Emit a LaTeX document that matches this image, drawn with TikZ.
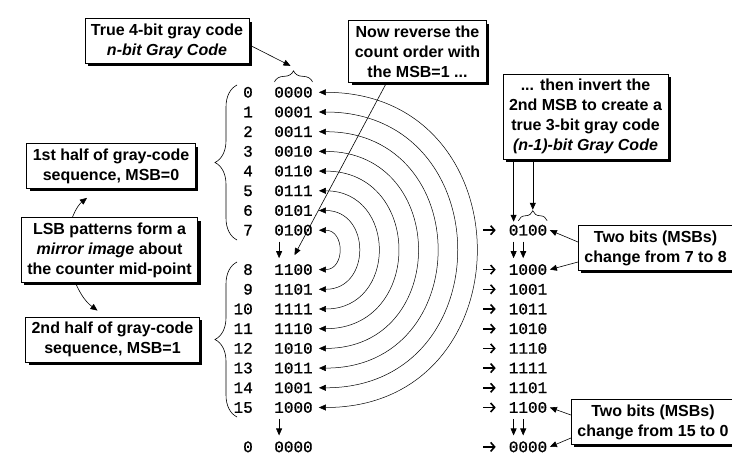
\documentclass[tikz,border=0pt]{standalone}
\usepackage{fontspec}
\setsansfont{Liberation Sans}
\newfontfamily\codefont{Liberation Mono}[FakeBold=0.9]
\usetikzlibrary{arrows.meta,shadows,decorations.pathreplacing}

\begin{document}
\begin{tikzpicture}[x=1pt, y=-1pt,
    note/.style={draw, fill=white, line width=0.9pt, align=center,
      inner xsep=6pt, inner ysep=5pt,
      font=\sffamily\bfseries\fontsize{16}{20}\selectfont,
      drop shadow={shadow xshift=3pt, shadow yshift=-3pt, fill=black, opacity=1}},
    code/.style={font=\codefont\fontsize{16}{16}\selectfont,
      inner xsep=6pt, inner ysep=3pt, text height=10.5pt, text depth=0pt},
    cnt/.style={code, anchor=east, inner xsep=0pt},
    gray3/.style={code, inner xsep=2.5pt},
    feed/.style={inner sep=0pt, minimum width=12pt, minimum height=8pt},
    feedarr/.style={-{Straight Barb[length=4pt, width=9pt]}, line width=1.6pt},
    arr/.style={-{Triangle[length=7pt, width=6pt]}, line width=0.6pt},
    mirror/.style={{Triangle[length=7pt, width=6pt]}-{Triangle[length=7pt, width=6pt]}, line width=0.5pt},
    brc/.style={decorate, decoration={brace, amplitude=#1}, line width=0.6pt}]
  \useasboundingbox (0,0) rectangle (732,463);

  % counter and its 4-bit gray code
  \foreach \n/\r/\g in {0/0/0000, 1/1/0001, 2/2/0011, 3/3/0010, 4/4/0110,
      5/5/0111, 6/6/0101, 7/7/0100, 8/9/1100, 9/10/1101, 10/11/1111,
      11/12/1110, 12/13/1010, 13/14/1011, 14/15/1001, 15/16/1000} {
    \node[cnt] (n\n) at (253, {92.3+19.7*\r}) {\n};
    \node[code] (c\n) at (293.5, {92.3+19.7*\r}) {\g};
  }
  \node[cnt] (n16) at (253, {92.3+19.7*18}) {0};
  \node[code] (c16) at (293.5, {92.3+19.7*18}) {0000};

  % reversed half with the 2nd MSB inverted
  \foreach \r/\g in {7/0100, 9/1000, 10/1001, 11/1011, 12/1010, 13/1110,
      14/1111, 15/1101, 16/1100, 18/0000} {
    \node[feed] (a\r) at (489.5, {92.3+19.7*\r}) {};
    \draw[feedarr] (a\r.west) -- (a\r.east);
    \node[gray3] (g\r) at (528, {92.3+19.7*\r}) {\g};
  }

  % mirror arcs
  \foreach \k in {0,...,7} {
    \pgfmathtruncatemacro\rowA{7-\k}
    \pgfmathtruncatemacro\rowB{8+\k}
    \draw[mirror] (c\rowA.east) to[out=0, in=0, looseness=1.7] (c\rowB.east);
  }

  % braces
  \draw[brc=11pt] ([xshift=-19pt, yshift=2pt]c0.north) -- ([xshift=19pt, yshift=2pt]c0.north);
  \draw[brc=22pt] (237,240) -- (237,85);
  \draw[brc=22pt] (237,417) -- (237,262);
  \draw[brc=10pt] ([xshift=-9.6pt, yshift=1pt]g7.north) -- ([xshift=19.2pt, yshift=1pt]g7.north);

  % wrap-around steps
  \draw[arr, shorten <=3pt, shorten >=3pt] ([xshift=-14.4pt]c7.south) -- ([xshift=-14.4pt]c8.north);
  \draw[arr, shorten <=3pt, shorten >=3pt] ([xshift=-14.4pt]c15.south) -- ([xshift=-14.4pt]c16.north);
  \foreach \a/\b in {7/9, 16/18}
    \foreach \s in {-14.4pt, -4.8pt}
      \draw[arr, shorten <=3pt, shorten >=3pt] ([xshift=\s]g\a.south) -- ([xshift=\s]g\b.north);

  % callouts
  \node[note] (full) at (167,41) {True 4-bit gray code\\\textit{n-bit Gray Code}};
  \node[note] (reverse) at (417.5,51.5) {Now reverse the\\count order with\\the MSB=1 ...};
  \node[note] (invert) at (585.5,116.5) {... then invert the\\2nd MSB to create a\\true 3-bit gray code\\\textit{(n-1)-bit Gray Code}};
  \node[note, anchor=west] (step78) at (578,248) {Two bits (MSBs)\\change from 7 to 8};
  \node[note, anchor=west] (step150) at (571,422) {Two bits (MSBs)\\change from 15 to 0};
  \node[note] (half1) at (111,166) {1st half of gray-code\\sequence, MSB=0};
  \node[note] (lsb) at (109.5,250) {LSB patterns form a\\\textit{mirror image} about\\the counter mid-point};
  \node[note] (half2) at (112.5,339.5) {2nd half of gray-code\\sequence, MSB=1};

  \coordinate (ctop) at ([xshift=-3pt, yshift=18pt]c0.north);
  \coordinate (g7a) at ([xshift=-14.4pt]g7.north);
  \coordinate (g7b) at ([xshift=4.8pt, yshift=12pt]g7.north);

  \draw[arr] ([yshift=-4pt]full.east) -- (ctop);
  \draw[arr] ([xshift=-31pt]reverse.south) -- ([xshift=1pt, yshift=6pt]c8.north);
  \draw[arr] (invert.south -| g7a) -- (g7a);
  \draw[arr] (invert.south -| g7b) -- (g7b);
  \draw[arr] ([yshift=6pt]step78.west) -- (g7.east);
  \draw[arr] ([yshift=-14pt]step78.west) -- (g9.east);
  \draw[arr] ([yshift=7pt]step150.west) -- (g16.east);
  \draw[arr] ([yshift=-16pt]step150.west) -- (g18.east);
  \draw[arr] ([xshift=-37pt]lsb.north) to[bend left=15] ([xshift=-24pt, yshift=-9pt]half1.south);
  \draw[arr] ([xshift=-34pt]lsb.south) to[bend right=15] ([xshift=-15pt, yshift=6pt]half2.north);
\end{tikzpicture}
\end{document}
